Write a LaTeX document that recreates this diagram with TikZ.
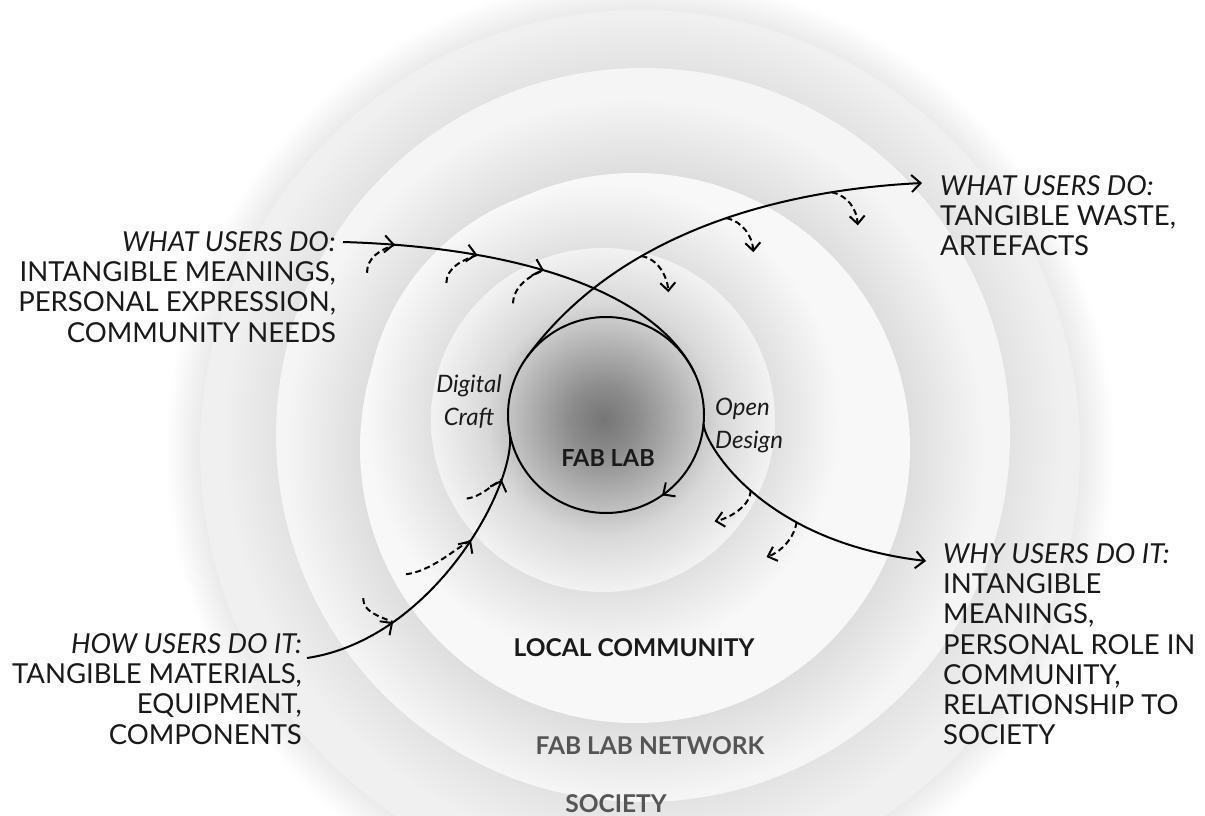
\documentclass[tikz,border=0pt]{standalone}
\usepackage{fontspec}
\setmainfont{Lato}
\usetikzlibrary{arrows.meta,positioning,decorations.markings}
\definecolor{Ink}{HTML}{1A1A1A}
\definecolor{RingInk}{HTML}{555555}
\definecolor{SocietyFill}{HTML}{F0F0F0}
\definecolor{NetworkFill}{HTML}{F5F5F5}
\definecolor{LocalFill}{HTML}{F8F8F8}
% Halos: the disk rim sits at the first stop, the halo has faded out at 25bp.
\pgfdeclareradialshading{societyhalo}{\pgfpoint{0bp}{0bp}}{%
  color(0bp)=(black!8); color(23.16bp)=(black!8); color(25bp)=(white); color(50bp)=(white)}
\pgfdeclareradialshading{networkhalo}{\pgfpoint{0bp}{0bp}}{%
  color(0bp)=(black!11); color(21.85bp)=(black!11); color(25bp)=(SocietyFill); color(50bp)=(SocietyFill)}
\pgfdeclareradialshading{localhalo}{\pgfpoint{0bp}{0bp}}{%
  color(0bp)=(black!13); color(19.64bp)=(black!13); color(25bp)=(NetworkFill); color(50bp)=(NetworkFill)}
\pgfdeclareradialshading{labhalo}{\pgfpoint{0bp}{0bp}}{%
  color(0bp)=(black!12); color(18.14bp)=(black!12); color(25bp)=(LocalFill); color(50bp)=(LocalFill)}
\pgfdeclareradialshading{labglow}{\pgfpoint{0bp}{0bp}}{%
  color(0bp)=(black!54); color(5bp)=(black!45); color(11bp)=(black!30);
  color(17bp)=(black!15); color(25bp)=(black!5); color(50bp)=(black!5)}
\tikzset{
  FlowBarb/.tip={Straight Barb[length=9pt,width=17pt]},
  SideBarb/.tip={Straight Barb[length=8pt,width=15pt]},
  flow line/.style={draw=black, line width=2pt},
  flow tip/.style={-{FlowBarb}},
  side line/.style={draw=black, line width=2pt, dash pattern=on 6pt off 3.6pt},
  side tip/.style={-{SideBarb}},
  note text/.style={font=\fontsize{27.5}{30.3}\selectfont, text=Ink, inner sep=0pt},
  craft text/.style={font=\itshape\fontsize{24}{33}\selectfont, text=Ink, inner sep=0pt},
  ring title/.style={font=\bfseries\fontsize{24.5}{28}\selectfont, inner sep=0pt},
}

\begin{document}
\begin{tikzpicture}[x=1pt, y=-1pt]
  \useasboundingbox (0,0) rectangle (1205,816);
  \fill[white] (0,0) rectangle (1205,816);

  % Nested rings, largest first; each one casts a soft halo on the ring behind it.
  \shade[shading=societyhalo] (640,450) circle (475);
  \fill[SocietyFill] (640,450) circle (440);
  \shade[shading=networkhalo] (643,435) circle (420);
  \fill[NetworkFill] (643,435) circle (367);
  \shade[shading=localhalo] (635,448) circle (350);
  \fill[LocalFill] (635,448) circle (275);
  \shade[shading=labhalo] (603,420) circle (237);
  \shade[shading=labglow] (603,420) circle (172);

  \node[ring title, text=Ink] (localTitle) at (634,648) {LOCAL COMMUNITY};
  \node[ring title, text=RingInk] (networkTitle) at (650,746) {FAB LAB NETWORK};
  \node[ring title, text=RingInk] (societyTitle) at (616,804) {SOCIETY};

  % The making loop itself.
  \node[circle, flow line, minimum size=196pt, inner sep=0pt, outer sep=0pt,
    postaction={decorate}, decoration={markings,
      mark=at position 0.847 with {\arrowreversed{FlowBarb}}}] (lab) at (606,415) {};
  \node[ring title, font=\bfseries\fontsize{23.5}{26}\selectfont, text=Ink] (labTitle) at (608,458) {FAB LAB};
  \node[craft text, align=center, anchor=north] (craftNote) at (469,375) {Digital\\Craft};
  \node[craft text, align=left, anchor=north west] (designNote) at (715,398) {Open\\Design};

  % Outer notes.
  \node[note text, align=right, anchor=north east] (meaningsNote) at (336,231)
    {\textit{WHAT USERS DO:}\\INTANGIBLE MEANINGS,\\PERSONAL EXPRESSION,\\COMMUNITY NEEDS};
  \node[note text, align=left, anchor=north west] (wasteNote) at (940,175)
    {\textit{WHAT USERS DO:}\\TANGIBLE WASTE,\\ARTEFACTS};
  \node[note text, align=right, anchor=north east] (materialsNote) at (302,633)
    {\textit{HOW USERS DO IT:}\\TANGIBLE MATERIALS,\\EQUIPMENT,\\COMPONENTS};
  \node[note text, align=left, anchor=north west] (reasonsNote) at (943,543)
    {\textit{WHY USERS DO IT:}\\INTANGIBLE\\MEANINGS,\\PERSONAL ROLE IN\\COMMUNITY,\\RELATIONSHIP TO\\SOCIETY};

  \coordinate (meaningsExit) at ([shift={(7,11)}]meaningsNote.north east);
  \coordinate (wasteEntry) at ([shift={(-18,8)}]wasteNote.north west);
  \coordinate (materialsExit) at ([shift={(5,25)}]materialsNote.north east);
  \coordinate (reasonsEntry) at ([shift={(-17,18)}]reasonsNote.north west);

  % Inputs wind onto the loop.
  \draw[flow line, postaction={decorate}, decoration={markings,
      mark=at position 0.133 with {\arrow{FlowBarb}\coordinate (meaningsA);},
      mark=at position 0.345 with {\arrow{FlowBarb}\coordinate (meaningsB);},
      mark=at position 0.52 with {\arrow{FlowBarb}\coordinate (meaningsC);}}]
    (meaningsExit) .. controls +(200,6) and +(-34,-72) .. (lab.25);
  \draw[flow line, postaction={decorate}, decoration={markings,
      mark=at position 0.29 with {\arrow{FlowBarb}\coordinate (materialsA);},
      mark=at position 0.64 with {\arrow{FlowBarb}\coordinate (materialsB);},
      mark=at position 0.85 with {\arrow{FlowBarb}\coordinate (materialsC);}}]
    (materialsExit) .. controls +(128.6,-19.2) and +(8.7,49.3) .. (lab.190);

  % Outputs leave the loop.
  \draw[flow line, flow tip] (lab.144) .. controls +(88.2,-121.4) and +(-150,7.5) .. (wasteEntry)
    coordinate[pos=0.35] (wasteA) coordinate[pos=0.56] (wasteB) coordinate[pos=0.8] (wasteC);
  \draw[flow line, flow tip] (lab.355) .. controls +(-1.3,14.9) and +(-170,-20) .. (reasonsEntry)
    coordinate[pos=0.5] (reasonsA) coordinate[pos=0.68] (reasonsB);

  % Dashed side streams feeding in.
  \draw[side line] ([shift={(-28,28)}]meaningsA) .. controls +(0,-15) and +(-15,5) .. (meaningsA);
  \draw[side line] ([shift={(-31,28)}]meaningsB) .. controls +(0,-15) and +(-15,5) .. (meaningsB);
  \draw[side line] ([shift={(-31,33)}]meaningsC) .. controls +(0,-16) and +(-15,5) .. (meaningsC);
  \draw[side line] ([shift={(-30,-24)}]materialsA) .. controls +(0,14) and +(-14,-6) .. (materialsA);
  \draw[side line] ([shift={(-65,34)}]materialsB) .. controls +(25,-3) and +(-18,10) .. (materialsB);
  \draw[side line] ([shift={(-35,19)}]materialsC) .. controls +(14,-2) and +(-12,7) .. (materialsC);

  % Dashed side streams spilling out.
  \draw[side line, side tip] (wasteA) .. controls +(16,2) and +(-1,-16) .. ([shift={(27,36)}]wasteA);
  \draw[side line, side tip] (wasteB) .. controls +(16,3) and +(-1,-16) .. ([shift={(27,34)}]wasteB);
  \draw[side line, side tip] (wasteC) .. controls +(16,3) and +(-1,-16) .. ([shift={(26,33)}]wasteC);
  \draw[side line, side tip] (reasonsA) .. controls +(0,16) and +(14,-3) .. ([shift={(-36,31)}]reasonsA);
  \draw[side line, side tip] (reasonsB) .. controls +(-2,16) and +(14,-5) .. ([shift={(-30,35)}]reasonsB);
\end{tikzpicture}
\end{document}
